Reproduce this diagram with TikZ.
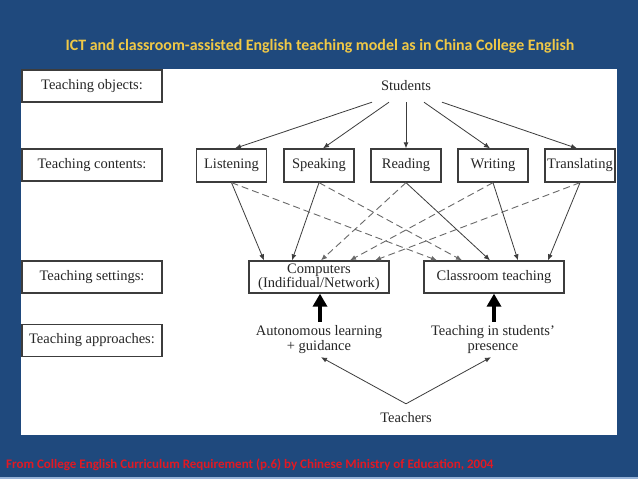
\documentclass[tikz,border=0pt]{standalone}
\usepackage{fontspec}
\setmainfont{Liberation Serif}
\newfontfamily\carlito{Carlito}
\usetikzlibrary{arrows.meta}
\definecolor{bgblue}{RGB}{31,73,125}
\definecolor{titleyellow}{RGB}{240,200,70}
\definecolor{footred}{RGB}{225,25,35}
\definecolor{boxgray}{RGB}{60,60,60}
\definecolor{linegray}{RGB}{60,60,60}
\definecolor{dashgray}{RGB}{105,105,105}
\definecolor{striplight}{RGB}{150,178,215}
\newcommand{\dfont}{\fontsize{14.5}{15}\selectfont}
\begin{document}
\begin{tikzpicture}[x=1pt,y=-1pt,
  lbl/.style={draw=boxgray, line width=1.3pt, minimum width=140pt, minimum height=32pt, inner sep=0pt, font=\dfont, text=black!85},
  cbox/.style={draw=boxgray, line width=1.3pt, minimum width=70pt, minimum height=33pt, inner sep=0pt, font=\dfont, text=black!85},
  sbox/.style={draw=boxgray, line width=1.3pt, minimum width=140pt, minimum height=32pt, inner sep=0pt, font=\dfont, text=black!85, align=center},
  plaintext/.style={inner sep=0pt, font=\dfont, text=black!85, align=center},
  sarrow/.style={draw=linegray, line width=0.8pt, -{Latex[length=6pt,width=5pt]}},
  darrow/.style={draw=dashgray, line width=0.9pt, dash pattern=on 7pt off 4pt, -{Latex[length=6pt,width=5pt]}},
  bigarrow/.style={draw=black, line width=4pt, -{Triangle[length=13pt,width=14pt]}},
]
\useasboundingbox (0,0) rectangle (638,479);
\fill[bgblue] (0,0) rectangle (638,479);
\fill[striplight] (0,477) rectangle (638,479);
\fill[white] (21,69) rectangle (617,435);

% title and footer
\node[font=\carlito\bfseries\fontsize{15.9}{18}\selectfont, text=titleyellow, inner sep=0pt] (title) at (320,46) {ICT and classroom-assisted English teaching model as in China College English};
\node[anchor=west, font=\carlito\bfseries\fontsize{13}{15}\selectfont, text=footred, inner sep=0pt] (foot) at (6,465) {From College English Curriculum Requirement (p.6) by Chinese Ministry of Education, 2004};

% left labels
\node[lbl] (lobj) at (92,86) {Teaching objects:};
\node[lbl] (lcont) at (92,165) {Teaching contents:};
\node[lbl] (lset) at (92,277) {Teaching settings:};
\node[lbl] (lapp) at (92,340.5) {Teaching approaches:};

% students
\node[plaintext, minimum height=32pt, minimum width=76pt] (stu) at (406,86) {Students};

% contents
\node[cbox] (lis) at (231.5,165.5) {Listening};
\node[cbox] (spk) at (319,165.5) {Speaking};
\node[cbox] (rea) at (406,165.5) {Reading};
\node[cbox] (wri) at (493,165.5) {Writing};
\node[cbox] (tra) at (580,165.5) {Translating};

% settings
\node[sbox, font=\fontsize{14.5}{14}\selectfont] (comp) at (319,277) {Computers\\(Indifidual/Network)};
\node[sbox] (cls) at (494,277) {Classroom teaching};

% approaches
\node[plaintext, minimum height=35pt] (auto) at (319,339.5) {Autonomous learning\\+ guidance};
\node[plaintext, minimum height=35pt] (pres) at (493,339.5) {Teaching in students’\\presence};

% teachers
\node[plaintext, minimum height=28pt] (tea) at (406,418) {Teachers};

% students -> contents
\draw[sarrow] ([xshift=-34pt]stu.south) -- ([xshift=3.5pt]lis.north);
\draw[sarrow] ([xshift=-17pt]stu.south) -- ([xshift=4pt]spk.north);
\draw[sarrow] (stu.south) -- (rea.north);
\draw[sarrow] ([xshift=18pt]stu.south) -- ([xshift=-3pt]wri.north);
\draw[sarrow] ([xshift=36pt]stu.south) -- ([xshift=-3pt]tra.north);

% contents -> computers
\draw[sarrow] (lis.south) -- ([xshift=-55pt]comp.north);
\draw[sarrow] (spk.south) -- ([xshift=-27pt]comp.north);
\draw[darrow] (rea.south) -- ([xshift=2pt]comp.north);
\draw[darrow] (wri.south) -- ([xshift=31pt]comp.north);
\draw[darrow] (tra.south) -- ([xshift=56pt]comp.north);

% contents -> classroom
\draw[darrow] (lis.south) -- ([xshift=-57pt]cls.north);
\draw[darrow] (spk.south) -- ([xshift=-32pt]cls.north);
\draw[sarrow] (rea.south) -- ([xshift=-4pt]cls.north);
\draw[sarrow] (wri.south) -- ([xshift=24pt]cls.north);
\draw[sarrow] (tra.south) -- ([xshift=54pt]cls.north);

% approaches -> settings
\draw[bigarrow] ([xshift=1pt]auto.north) -- ([xshift=1pt]comp.south);
\draw[bigarrow] ([xshift=1pt]pres.north) -- (cls.south);

% teachers -> approaches
\draw[sarrow] (tea.north) -- ([xshift=2pt]auto.south);
\draw[sarrow] (tea.north) -- ([xshift=-2pt]pres.south);
\end{tikzpicture}
\end{document}
